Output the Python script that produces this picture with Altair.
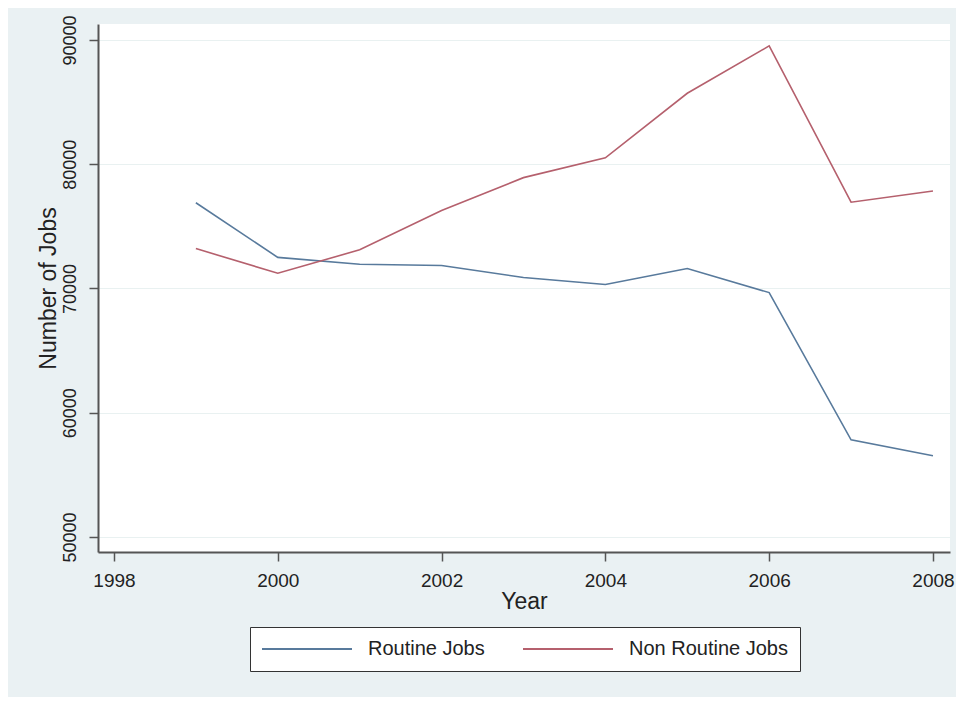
import altair as alt
import pandas as pd

years = [1999, 2000, 2001, 2002, 2003, 2004, 2005, 2006, 2007, 2008]
routine_jobs = [76900, 72500, 71950, 71850, 70880, 70320, 71600, 69670, 57820, 56530]
non_routine_jobs = [73210, 71230, 73110, 76280, 78920, 80510, 85710, 89520, 76940, 77850]
series_names = ["Routine Jobs", "Non Routine Jobs"]
series_colors = ["#587a9c", "#b5606d"]
x_ticks = [1998, 2000, 2002, 2004, 2006, 2008]
y_ticks = [50000, 60000, 70000, 80000, 90000]

rows = []
for name, vals in zip(series_names, [routine_jobs, non_routine_jobs]):
    for yr, v in zip(years, vals):
        rows.append({"Year": yr, "Jobs": v, "Series": name})
df = pd.DataFrame(rows)

FONT = "Liberation Sans"

chart = alt.Chart(df).mark_line(strokeWidth=1.6).encode(
    x=alt.X(
        "Year:Q",
        scale=alt.Scale(domain=[1997.805, 2008.208], nice=False, zero=False),
        axis=alt.Axis(
            values=x_ticks, format="d", title="Year", grid=False,
            labelFont=FONT, labelFontSize=19, labelColor="#222222",
            labelPadding=10, labelBaseline="top", labelFlush=False,
            titleFont=FONT, titleFontSize=23, titleFontWeight="normal",
            titleColor="#222222", titleY=56, titleBaseline="alphabetic",
            domainColor="#555555", domainWidth=2, tickColor="#555555",
            tickWidth=1.5, tickSize=9,
        ),
    ),
    y=alt.Y(
        "Jobs:Q",
        scale=alt.Scale(domain=[48790, 91285], nice=False, zero=False),
        axis=alt.Axis(
            values=y_ticks, format="d", title="Number of Jobs",
            labelAngle=270, labelAlign="center", labelBaseline="alphabetic",
            labelPadding=14, labelFont=FONT, labelFontSize=18,
            labelColor="#222222", labelFlush=False,
            titleFont=FONT, titleFontSize=23, titleFontWeight="normal",
            titleColor="#222222", titleAngle=270, titleX=-43,
            titleBaseline="alphabetic",
            grid=True, gridColor="#e9f1f1", gridWidth=1.2,
            domainColor="#555555", domainWidth=2, tickColor="#555555",
            tickWidth=1.5, tickSize=9,
        ),
    ),
    color=alt.Color(
        "Series:N",
        scale=alt.Scale(domain=series_names, range=series_colors),
        legend=alt.Legend(
            title=None, orient="none", legendX=152, legendY=603,
            direction="horizontal", columns=2, columnPadding=34,
            symbolType="M-5,0H5", symbolSize=324, symbolStrokeWidth=2,
            symbolOffset=35, labelOffset=51,
            labelFont=FONT, labelFontSize=20, labelColor="#222222",
            fillColor="#ffffff", strokeColor="#333333", padding=12,
            cornerRadius=0,
        ),
    ),
).properties(
    width=852,
    height=528,
    autosize=alt.AutoSizeParams(type="none"),
    padding={"left": 90, "top": 16, "right": 6, "bottom": 145},
    background="#eaf1f3",
).configure_view(
    fill="#ffffff", stroke=None,
)

chart.save("out.html", embed_options={"renderer": "svg", "actions": False})
